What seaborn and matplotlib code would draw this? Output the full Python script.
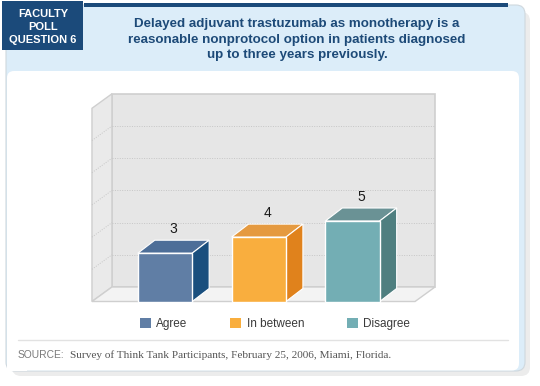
import matplotlib
matplotlib.use('Agg')
import matplotlib.pyplot as plt
import seaborn as sns
from matplotlib.patches import Polygon, Rectangle, FancyBboxPatch, Patch

# Data
categories = ['Agree', 'In between', 'Disagree']
votes = [3, 4, 5]
front_colors = ['#607ea5', '#f9ae3e', '#73aeb4']
top_colors = ['#4d6e98', '#e59a40', '#6a9295']
side_colors = ['#1a4f7e', '#e0821c', '#4f7f80']
grid_ticks = [2, 4, 6, 8, 10]

title_lines = ['Delayed adjuvant trastuzumab as monotherapy is a',
               'reasonable nonprotocol option in patients diagnosed',
               'up to three years previously.']
badge_lines = ['FACULTY', 'POLL', 'QUESTION 6']
source_text = 'Survey of Think Tank Participants, February 25, 2006, Miami, Florida.'

sns.set_style('white')
plt.rcParams['font.family'] = ['Liberation Sans', 'DejaVu Sans']

fig = plt.figure(figsize=(5.4, 3.86), dpi=100)
fig.patch.set_facecolor('white')

# background frame in pixel coordinates
bg = fig.add_axes([0, 0, 1, 1])
bg.set_xlim(0, 540)
bg.set_ylim(386, 0)
bg.axis('off')

navy = '#1b4a7a'
light_blue = '#dcedf9'

# soft shadow
bg.add_patch(FancyBboxPatch((12, 12), 518, 364, boxstyle='round,pad=0,rounding_size=9',
                            facecolor='#ececec', edgecolor='none', zorder=0))
# card
bg.add_patch(FancyBboxPatch((6, 5), 519, 366, boxstyle='round,pad=0,rounding_size=9',
                            facecolor=light_blue, edgecolor='#cfd8de', linewidth=0.8, zorder=1))
bg.add_patch(FancyBboxPatch((7, 71), 512, 299.5, boxstyle='round,pad=0,rounding_size=7',
                            facecolor='white', edgecolor='none', zorder=2))
bg.add_patch(Rectangle((7, 100), 20, 270.5, facecolor='white', edgecolor='none', zorder=2))
# top navy rule and badge
bg.add_patch(Rectangle((84, 3), 424, 3.5, facecolor=navy, edgecolor='none', zorder=3))
bg.add_patch(Rectangle((2, 1), 81, 49, facecolor=navy, edgecolor='none', zorder=3))
for i, line in enumerate(badge_lines):
    bg.text(43, 14 + i * 13, line, color='white', fontsize=8, fontweight='bold',
            ha='center', va='center', zorder=4)
for i, line in enumerate(title_lines):
    bg.text(297, 24 + i * 15.5, line, color='#1d4a78', fontsize=9.6, fontweight='bold',
            ha='center', va='center', zorder=4)

# source
bg.plot([18, 508], [340, 340], color='#e2e2e2', linewidth=1, zorder=3)
bg.text(18, 355, 'SOURCE:', color='#7a7a7a', fontsize=7.4, ha='left', va='center', zorder=4)
bg.text(70, 355, source_text, color='#555555', fontsize=8.1, ha='left', va='center',
        family='Liberation Serif', zorder=4)

# chart axes
ax = fig.add_axes([80 / 540, (386 - 312) / 386, 380 / 540, 224 / 386])
ax.patch.set_alpha(0)
sns.barplot(x=categories, y=votes, hue=categories, palette=front_colors, width=0.58,
            saturation=1, edgecolor='white', linewidth=1, legend=False, ax=ax, zorder=3)
ax.set_xlim(-0.9067, 3.1467)
ax.set_ylim(-0.652, 13.26)
ax.axis('off')

xl, xr = -0.779, 2.667
dx, dy = 0.213, 0.90
ytop = 12
edge = '#cfcfcf'
ax.add_patch(Polygon([(xl, 0), (xr, 0), (xr + dx, dy), (xl + dx, dy)],
                     facecolor='#f3f3f3', edgecolor=edge, linewidth=1, zorder=0.5))
ax.add_patch(Polygon([(xl + dx, dy), (xr + dx, dy), (xr + dx, ytop + dy), (xl + dx, ytop + dy)],
                     facecolor='#e6e6e6', edgecolor=edge, linewidth=1.2, zorder=0.4))
ax.add_patch(Polygon([(xl, 0), (xl + dx, dy), (xl + dx, ytop + dy), (xl, ytop)],
                     facecolor='#eaeaea', edgecolor=edge, linewidth=1, zorder=0.45))
for v in grid_ticks:
    ax.plot([xl + dx, xr + dx], [v + dy, v + dy], color='#c6c6c6', linewidth=0.7,
            linestyle=(0, (1, 1.5)), zorder=0.6)
    ax.plot([xl, xl + dx], [v, v + dy], color='#c6c6c6', linewidth=0.7,
            linestyle=(0, (1, 1.5)), zorder=0.6)

# 3D faces for bars
bdx, bdy = 0.181, 0.807
for p, tc, sc, val in zip(ax.patches[:len(votes)], top_colors, side_colors, votes):
    x0 = p.get_x()
    w = p.get_width()
    h = p.get_height()
    x1 = x0 + w
    ax.add_patch(Polygon([(x0, h), (x1, h), (x1 + bdx, h + bdy), (x0 + bdx, h + bdy)],
                         facecolor=tc, edgecolor='white', linewidth=0.8, zorder=2.9))
    ax.add_patch(Polygon([(x1, 0), (x1 + bdx, bdy), (x1 + bdx, h + bdy), (x1, h)],
                         facecolor=sc, edgecolor='white', linewidth=0.8, zorder=2.9))
    ax.text(x0 + w / 2 + bdx / 2, h + bdy + 0.7, str(val), ha='center', va='center',
            fontsize=10, color='#1a1a1a', zorder=5)

handles = [Patch(facecolor=c, edgecolor='none', label=l) for c, l in zip(front_colors, categories)]
fig.legend(handles=handles, loc='center left', bbox_to_anchor=(134 / 540, 1 - 324 / 386),
           ncol=3, frameon=False, fontsize=8.5, handlelength=0.95, handleheight=0.95,
           handletextpad=0.45, columnspacing=3.6, borderpad=0, labelcolor='#3a3a3a')

fig.savefig('out.png', dpi=100, facecolor='white')
